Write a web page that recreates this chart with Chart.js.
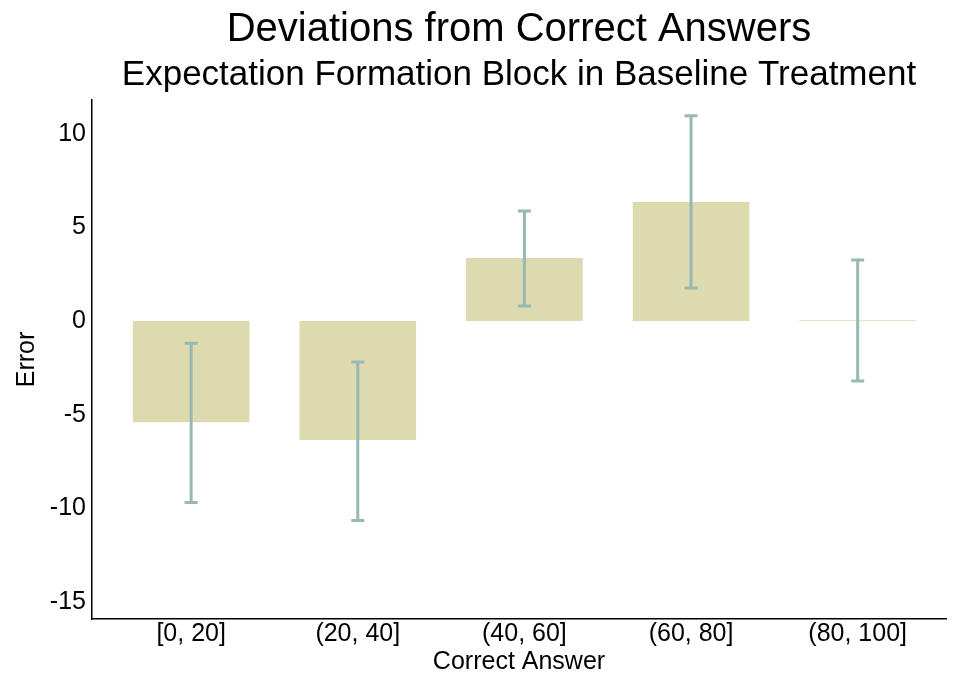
<!DOCTYPE html>
<html lang="en">
<head>
    <meta charset="UTF-8">
    <script src="https://cdn.jsdelivr.net/npm/chart.js"></script>
    <title>Deviations from Correct Answers</title>
    <style>
        body { margin: 0; background: #fff; }
        #wrap { width: 956px; height: 679px; }
    </style>
</head>
<body>
    <div id="wrap"><canvas id="chart1"></canvas></div>

    <script>
        // values
        const categories = ['[0, 20]', '(20, 40]', '(40, 60]', '(60, 80]', '(80, 100]'];
        const meanError = [-5.4, -6.35, 3.37, 6.36, 0.05];
        const ciLow = [-9.68, -10.64, 0.8, 1.76, -3.2];
        const ciHigh = [-1.18, -2.19, 5.88, 10.96, 3.26];
        const yTicks = [-15, -10, -5, 0, 5, 10];

        const barColor = 'rgb(221, 218, 176)';
        const whiskerColor = 'rgb(152, 185, 178)';
        const fontFamily = '"Liberation Sans", Arial, Helvetica, sans-serif';

        // draws the confidence intervals on top of the bars
        const errorBars = {
            id: 'errorBars',
            afterDatasetsDraw(chart) {
                const ctx = chart.ctx;
                const yScale = chart.scales.y;
                const meta = chart.getDatasetMeta(0);
                ctx.save();
                ctx.strokeStyle = whiskerColor;
                ctx.lineWidth = 3;
                meta.data.forEach((bar, i) => {
                    const x = bar.x;
                    const top = yScale.getPixelForValue(ciHigh[i]);
                    const bottom = yScale.getPixelForValue(ciLow[i]);
                    ctx.beginPath();
                    ctx.moveTo(x, top);
                    ctx.lineTo(x, bottom);
                    ctx.moveTo(x - 6.5, top);
                    ctx.lineTo(x + 6.5, top);
                    ctx.moveTo(x - 6.5, bottom);
                    ctx.lineTo(x + 6.5, bottom);
                    ctx.stroke();
                });
                ctx.restore();
            }
        };

        const ctx1 = document.getElementById('chart1').getContext('2d');
        const chart = new Chart(ctx1, {
            type: 'bar',
            data: {
                datasets: [{
                    label: 'Error',
                    data: meanError.map((v, i) => ({ x: i, y: v })),
                    backgroundColor: barColor,
                    borderWidth: 0,
                    barPercentage: 0.7,
                    categoryPercentage: 1.0,
                }],
            },
            options: {
                responsive: true,
                maintainAspectRatio: false,
                animation: false,
                layout: { padding: { left: 0, right: 10, top: 0, bottom: 3 } },
                plugins: {
                    legend: { display: false },
                    tooltip: { enabled: false },
                    title: {
                        display: true,
                        fullSize: false,
                        text: 'Deviations from Correct Answers',
                        color: '#000',
                        font: { family: fontFamily, size: 40, weight: 'normal', lineHeight: 1.2 },
                        padding: { top: 6, bottom: 0 },
                    },
                    subtitle: {
                        display: true,
                        fullSize: false,
                        text: 'Expectation Formation Block in Baseline Treatment',
                        color: '#000',
                        font: { family: fontFamily, size: 35, weight: 'normal', lineHeight: 1.2 },
                        padding: { top: 0, bottom: 4 },
                    },
                },
                scales: {
                    x: {
                        type: 'linear',
                        offset: false,
                        min: -0.595,
                        max: 4.53,
                        grid: { display: false, offset: false, drawTicks: false },
                        border: { display: true, color: '#000', width: 1.5 },
                        ticks: {
                            stepSize: 1,
                            includeBounds: false,
                            color: '#000',
                            padding: 1,
                            maxRotation: 0,
                            autoSkip: false,
                            font: { family: fontFamily, size: 25, lineHeight: 1.1 },
                            callback: (v) => categories[v] ?? '',
                        },
                        title: {
                            display: true,
                            text: 'Correct Answer',
                            color: '#000',
                            padding: { top: 0, bottom: 0 },
                            font: { family: fontFamily, size: 25, lineHeight: 1.1 },
                        },
                    },
                    y: {
                        min: -15.9,
                        max: 11.8,
                        grid: { display: false, drawTicks: false },
                        border: { display: true, color: '#000', width: 1.5 },
                        afterFit: (axis) => { axis.width = 92; },
                        afterBuildTicks: (axis) => {
                            axis.ticks = yTicks.map(v => ({ value: v }));
                        },
                        ticks: {
                            color: '#000',
                            padding: 6,
                            font: { family: fontFamily, size: 25 },
                        },
                        title: {
                            display: true,
                            text: 'Error',
                            color: '#000',
                            padding: { top: 12, bottom: 0 },
                            font: { family: fontFamily, size: 25 },
                        },
                    },
                },
            },
            plugins: [errorBars],
        });
    </script>
</body>
</html>
